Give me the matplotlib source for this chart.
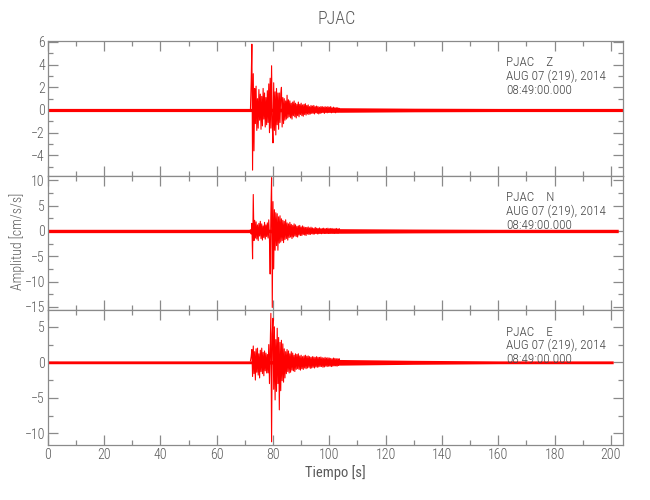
import matplotlib
matplotlib.use("Agg")
import matplotlib.pyplot as plt
from matplotlib.ticker import MultipleLocator
import numpy as np

# --- data ------------------------------------------------------------------
station = "PJAC"
components = ["Z", "N", "E"]
date_line = "AUG 07 (219), 2014"
time_line = "08:49:00.000"

# background noise half-width (cm/s/s) at a few times, and record ends (s)
noise_t = [0, 72, 104, 130, 160]
noise_z = [0.14, 0.14, 0.2, 0.16, 0.14]
noise_n = [0.33, 0.33, 0.45, 0.38, 0.33]
noise_e = [0.2, 0.2, 0.4, 0.28, 0.2]
record_end = [204.4, 202.6, 200.8]

# burst: samples every 0.25 s starting at 72.0 s (one row = 2 s)
burst_start = 72.0
burst_dt = 0.25
burst_z = [0.1, 2.4, 5.8, -5.3, 3.2, -3.6, 1.9, -1.2,
           2.1, -1.8, 1.0, -1.6, 1.8, -0.9, 1.4, -1.7,
           1.2, -1.4, 1.9, -0.8, 1.5, -1.5, 1.1, -1.3,
           1.7, -1.1, 2.3, -2.0, 2.8, -1.6, 3.9, -1.4,
           -2.9, 2.4, -1.8, 1.6, -2.2, 1.9, -1.3, 1.5,
           -1.7, 1.5, -1.1, 1.4, 2.0, -1.5, 1.1, -1.2,
           1.0, -0.9, 0.8, -0.8, 1.3, -0.7, 0.9, -0.6,
           0.8, -0.7, 0.6, -0.8, 0.7, -0.5, 0.8, -0.6,
           0.6, -0.7, 0.5, -0.5, 0.7, -0.6, 0.5, -0.4,
           0.6, -0.5, 0.45, -0.55, 0.5, -0.4, 0.55, -0.45,
           0.4, -0.35, 0.45, -0.4, 0.3, -0.35, 0.4, -0.3,
           0.35, -0.3, 0.4, -0.35, 0.3, -0.25, 0.35, -0.3,
           0.3, -0.35, 0.25, -0.3, 0.3, -0.25, 0.3, -0.2,
           0.25, -0.3, 0.3, -0.2, 0.25, -0.25, 0.3, -0.2,
           0.25, -0.2, 0.3, -0.25, 0.2, -0.2, 0.25, -0.2,
           0.2, -0.25, 0.2, -0.15, 0.2, -0.15, 0.15, 0.0]
burst_n = [0.2, -0.6, 1.5, -5.5, 7.2, -1.9, 2.1, -1.4,
           1.8, -1.6, 1.2, -1.9, 1.5, -1.0, 1.9, -1.5,
           1.4, -1.8, 1.0, -1.3, 1.7, -1.6, 1.2, -1.1,
           1.6, -1.4, 2.2, -1.8, -8.5, 3.5, 10.5, -15.1,
           5.8, -7.5, 4.2, -3.8, 3.6, -2.9, 3.4, -3.8,
           2.8, -2.4, 3.0, -2.2, 2.4, -1.9, 2.1, -2.3,
           1.9, -1.7, 2.2, -1.5, 1.6, -1.8, 1.4, -1.3,
           1.7, -1.2, 1.3, -1.5, 1.1, -1.2, 1.4, -1.0,
           1.2, -1.1, 0.9, -1.2, 1.0, -0.8, 1.1, -0.9,
           0.8, -0.9, 1.0, -0.7, 0.8, -0.8, 0.7, -0.9,
           0.7, -0.6, 0.8, -0.7, 0.6, -0.7, 0.75, -0.55,
           0.6, -0.65, 0.5, -0.6, 0.7, -0.5, 0.55, -0.6,
           0.5, -0.55, 0.6, -0.5, 0.45, -0.55, 0.5, -0.45,
           0.55, -0.5, 0.45, -0.5, 0.5, -0.45, 0.55, -0.5,
           0.45, -0.5, 0.5, -0.4, 0.5, -0.45, 0.4, -0.5,
           0.45, -0.4, 0.5, -0.45, 0.4, -0.4, 0.45, 0.0]
burst_e = [0.2, 0.8, 1.8, -2.0, 2.3, -1.6, 1.5, -2.5,
           1.9, -1.4, 2.0, -1.8, 1.2, -2.2, 1.7, -1.3,
           2.0, -1.6, 1.4, -1.9, 1.6, -1.2, 1.3, -1.5,
           1.1, -1.5, 2.5, -3.0, 1.8, 6.9, -11.2, 4.0,
           6.2, -3.8, 5.0, -5.3, 3.2, -4.1, 4.8, -3.0,
           3.5, -6.7, 2.8, -4.0, 3.1, -2.6, 2.6, -2.8,
           1.9, -2.2, 1.5, -1.6, 1.8, -1.3, 1.6, -1.5,
           1.2, -1.4, 1.5, -1.1, 1.3, -1.2, 1.0, -1.3,
           1.2, -1.0, 1.1, -0.9, 1.2, -1.0, 0.9, -1.1,
           1.0, -0.9, 0.8, -1.0, 0.9, -0.8, 1.0, -0.9,
           0.85, -0.8, 0.9, -0.7, 0.8, -0.85, 0.7, -0.8,
           0.8, -0.7, 0.75, -0.8, 0.7, -0.65, 0.8, -0.7,
           0.7, -0.65, 0.7, -0.6, 0.75, -0.6, 0.65, -0.7,
           0.6, -0.65, 0.7, -0.55, 0.6, -0.6, 0.65, -0.55,
           0.6, -0.55, 0.55, -0.6, 0.5, -0.55, 0.6, -0.5,
           0.55, -0.5, 0.5, -0.55, 0.5, -0.45, 0.5, 0.0]
bursts = [burst_z, burst_n, burst_e]
noises = [noise_z, noise_n, noise_e]

# axis limits / tick spacing per panel
x_max = 204.4
y_limits = [(-5.79, 6.08), (-15.6, 10.85), (-11.65, 7.37)]
y_major = [2, 5, 5]
y_minor = [1, 2.5, 2.5]

# --- style -------------------------------------------------------------------
FONT = ["Roboto Condensed", "Liberation Sans"]
plt.rcParams["font.family"] = FONT
plt.rcParams["font.weight"] = "light"
AX_COL = "#8a8a8a"
TXT_COL = "#5a5a5a"
TRACE = "#ff0000"

fig = plt.figure(figsize=(6.5, 5), dpi=100)
left, width = 47.7 / 650, (623.3 - 47.7) / 650
panel_px = [(41, 175.7), (176, 310), (310, 445)]

axes = []
for i, comp in enumerate(components):
    top, bot = panel_px[i]
    ax = fig.add_axes([left, 1 - bot / 500, width, (bot - top) / 500])
    axes.append(ax)

    nx = noise_t + [record_end[i]]
    ny = np.array(noises[i] + [noises[i][-1]])
    ax.fill_between(nx, -ny, ny, color=TRACE, lw=0, zorder=2)
    t = burst_start + burst_dt * np.arange(len(bursts[i]))
    ax.plot(t, bursts[i], color=TRACE, lw=0.8, zorder=3)

    ax.set_xlim(0, x_max)
    ax.set_ylim(*y_limits[i])
    ax.xaxis.set_major_locator(MultipleLocator(20))
    ax.xaxis.set_minor_locator(MultipleLocator(10))
    ax.yaxis.set_major_locator(MultipleLocator(y_major[i]))
    ax.yaxis.set_minor_locator(MultipleLocator(y_minor[i]))
    ax.tick_params(which="both", direction="in", top=True, right=True,
                   colors=AX_COL, labelcolor=TXT_COL, labelsize=10, width=0.9)
    ax.tick_params(which="major", length=7, pad=2)
    ax.tick_params(which="minor", length=3.5)
    for s in ax.spines.values():
        s.set_color(AX_COL)
        s.set_linewidth(0.9)
    if i < 2:
        ax.tick_params(labelbottom=False)

    ax.text(0.797, 0.885, f"{station}    {comp}\n{date_line}\n{time_line}",
            transform=ax.transAxes, ha="left", va="top", fontsize=9.5,
            linespacing=1.05, color="#444444", zorder=4)

axes[-1].set_xlabel("Tiempo [s]", fontsize=10.5, color=TXT_COL, labelpad=2)
fig.text(0.027, 0.517, "Amplitud [cm/s/s]", rotation=90, ha="center",
         va="center", fontsize=10, color=TXT_COL)
fig.text(0.518, 0.962, station, ha="center", va="center", fontsize=13,
         color=TXT_COL)

fig.savefig("out.png", dpi=100)
plt.close(fig)
